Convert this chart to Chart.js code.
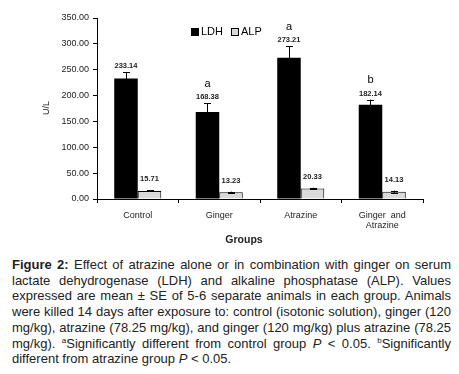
<!DOCTYPE html>
<html>
<head>
<meta charset="utf-8">
<script src="https://cdn.jsdelivr.net/npm/chart.js@4"></script>
<style>
  html, body { margin: 0; padding: 0; background: #fff; }
  #wrap { position: relative; width: 459px; height: 374px; }
  #chart-box { position: absolute; left: 0; top: 0; width: 459px; height: 250px; }
  #caption {
    position: absolute; left: 12px; top: 257px; width: 439px;
    font-family: "Liberation Sans", Arial, sans-serif; font-size: 13px;
    line-height: 15.7px; color: #222; text-align: justify;
  }
  #caption sup { font-size: 8px; line-height: 0; }
</style>
</head>
<body>
<div id="wrap">
  <div id="chart-box"><canvas id="enzymes" width="459" height="250"></canvas></div>
  <div id="caption"><b>Figure 2:</b> Effect of atrazine alone or in combination with ginger on serum lactate dehydrogenase (LDH) and alkaline phosphatase (ALP). Values expressed are mean ± SE of 5-6 separate animals in each group. Animals were killed 14 days after exposure to: control (isotonic solution), ginger (120 mg/kg), atrazine (78.25 mg/kg), and ginger (120 mg/kg) plus atrazine (78.25 mg/kg). <sup>a</sup>Significantly different from control group <i>P</i> &lt; 0.05. <sup>b</sup>Significantly different from atrazine group <i>P</i> &lt; 0.05.</div>
</div>
<script>
(function(){
    var groups = ['Control', 'Ginger', 'Atrazine', ['Ginger  and', 'Atrazine']];
    var ldh = [233.14, 168.38, 273.21, 182.14];
    var ldh_se = [12.5, 17.0, 22.0, 10.0];
    var alp = [15.71, 13.23, 20.33, 14.13];
    var alp_se = [1.2, 1.0, 1.5, 2.2];
    var ldh_sig = ['', 'a', 'a', 'b'];
    var y_ticks = [0, 50, 100, 150, 200, 250, 300, 350];

    const FONT = '"Liberation Sans", Arial, sans-serif';

    // error bars, value labels, letters, legend and axis titles
    const extras = {
        id: 'extras',
        afterDatasetsDraw(chart) {
            const ctx = chart.ctx;
            const y = chart.scales.y;
            const sets = [
                {vals: ldh, se: ldh_se, gap: 6, sig: ldh_sig},
                {vals: alp, se: alp_se, gap: 11, sig: null}
            ];
            ctx.save();
            sets.forEach(function(s, di) {
                chart.getDatasetMeta(di).data.forEach(function(bar, i) {
                    const top = y.getPixelForValue(s.vals[i] + s.se[i]);
                    const bot = y.getPixelForValue(s.vals[i] - s.se[i]);
                    const x = Math.round(bar.x) + 0.5;
                    ctx.strokeStyle = '#000';
                    ctx.lineWidth = 1;
                    ctx.beginPath();
                    ctx.moveTo(x, top); ctx.lineTo(x, bot);
                    ctx.moveTo(x - 3.5, Math.round(top) + 0.5); ctx.lineTo(x + 3.5, Math.round(top) + 0.5);
                    ctx.moveTo(x - 3.5, Math.round(bot) + 0.5); ctx.lineTo(x + 3.5, Math.round(bot) + 0.5);
                    ctx.stroke();

                    const ly = top - s.gap;
                    ctx.fillStyle = '#222';
                    ctx.textAlign = 'center';
                    ctx.textBaseline = 'middle';
                    ctx.font = 'bold 7.5px ' + FONT;
                    ctx.fillText(s.vals[i].toFixed(2), bar.x, ly);
                    if (s.sig && s.sig[i]) {
                        ctx.font = '11px ' + FONT;
                        ctx.fillStyle = '#000';
                        ctx.fillText(s.sig[i], bar.x, ly - 13.5);
                    }
                });
            });

            // legend
            ctx.fillStyle = '#000';
            ctx.fillRect(191, 28, 8, 8);
            ctx.fillStyle = '#d9d9d9';
            ctx.fillRect(231, 28, 8, 8);
            ctx.strokeStyle = '#000';
            ctx.strokeRect(231.5, 28.5, 7, 7);
            ctx.fillStyle = '#000';
            ctx.font = '11px ' + FONT;
            ctx.textAlign = 'left';
            ctx.textBaseline = 'middle';
            ctx.fillText('LDH', 201, 32);
            ctx.fillText('ALP', 241, 32);

            // axis titles
            ctx.font = 'bold 10.5px ' + FONT;
            ctx.textAlign = 'center';
            ctx.fillStyle = '#222';
            ctx.fillText('Groups', 244, 240);
            ctx.translate(47, 108);
            ctx.rotate(-Math.PI / 2);
            ctx.font = '9px ' + FONT;
            ctx.fillText('U/L', 0, 0);
            ctx.restore();
        }
    };

    const data = {
        labels: groups,
        datasets: [{
            label: 'LDH',
            data: ldh,
            backgroundColor: '#000',
            borderColor: '#000',
            borderWidth: 0,
            categoryPercentage: 0.577,
            barPercentage: 1.0
        },{
            label: 'ALP',
            data: alp,
            backgroundColor: '#d9d9d9',
            borderColor: '#000',
            borderWidth: 1,
            categoryPercentage: 0.577,
            barPercentage: 1.0
        }]
    };

    // config
    const config = {
        type: 'bar',
        data,
        plugins: [extras],
        options: {
            responsive: false,
            animation: false,
            layout: { padding: { top: 18, right: 36, left: 0, bottom: 0 } },
            scales: {
                x: {
                    grid: { drawOnChartArea: false, offset: true, tickLength: 4, color: '#000' },
                    border: { color: '#000', width: 1 },
                    ticks: {
                        color: '#222', padding: 8, maxRotation: 0, autoSkip: false,
                        font: { family: FONT, size: 9, lineHeight: 1.05 }
                    },
                    afterFit: function(scale) { scale.height = 51; }
                },
                y: {
                    min: 0,
                    max: 350,
                    afterBuildTicks: function(scale) {
                        scale.ticks = y_ticks.map(function(v) { return {value: v}; });
                    },
                    grid: { drawOnChartArea: false, tickLength: 4, color: '#000' },
                    border: { color: '#000', width: 1 },
                    ticks: {
                        color: '#222', padding: 4,
                        font: { family: FONT, size: 9 },
                        callback: function(value) { return value.toFixed(2); }
                    },
                    afterFit: function(scale) { scale.width = 97; }
                }
            },
            plugins: {
                legend: { display: false },
                tooltip: { enabled: false }
            }
        }
    };

    // render init block
    const myChart = new Chart(
        document.getElementById('enzymes'),
        config
    );
})();
</script>
</body>
</html>
